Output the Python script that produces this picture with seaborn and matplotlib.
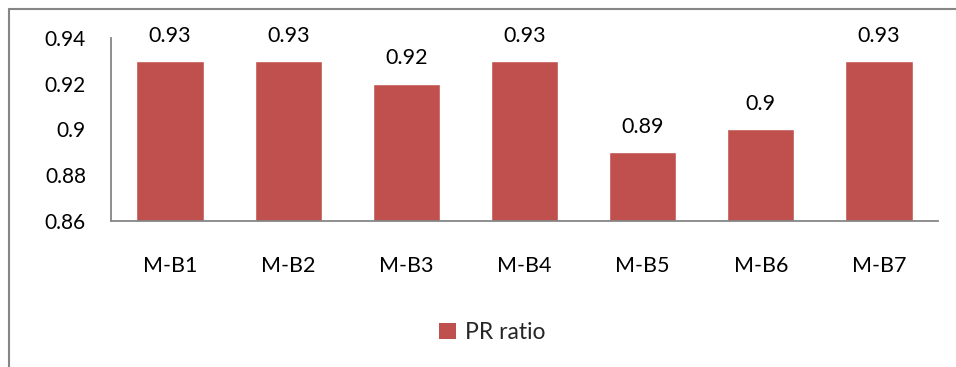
import matplotlib
matplotlib.use("Agg")
import matplotlib.pyplot as plt
from matplotlib.lines import Line2D
from matplotlib.patches import Patch
import pandas as pd
import seaborn as sns

categories = ["M-B1", "M-B2", "M-B3", "M-B4", "M-B5", "M-B6", "M-B7"]
pr_ratio = [0.93, 0.93, 0.92, 0.93, 0.89, 0.90, 0.93]
series_name = "PR ratio"
y_ticks = [0.86, 0.88, 0.90, 0.92, 0.94]
y_tick_labels = ["0.86", "0.88", "0.9", "0.92", "0.94"]

bar_color = "#C0504D"
axis_gray = "#868686"

sns.set_theme(style="white")
plt.rcParams["font.family"] = ["Lato", "DejaVu Sans"]

df = pd.DataFrame({"model": categories, "value": pr_ratio})

fig = plt.figure(figsize=(9.56, 3.67), dpi=100)
ax = fig.add_axes([0.1161, 0.3978, 0.9812 - 0.1161, 0.8965 - 0.3978])

sns.barplot(data=df, x="model", y="value", color=bar_color, saturation=1,
            width=0.57, ax=ax)

ax.set_ylim(0.86, 0.94)
ax.set_yticks(y_ticks)
ax.set_yticklabels(y_tick_labels)
ax.set_xlim(-0.5, len(categories) - 0.5)
ax.set_xlabel("")
ax.set_ylabel("")

for side in ("top", "right"):
    ax.spines[side].set_visible(False)
for side in ("left", "bottom"):
    ax.spines[side].set_color(axis_gray)
    ax.spines[side].set_linewidth(1.3)

ax.tick_params(axis="y", length=0, pad=18, labelsize=15, labelcolor="black")
ax.tick_params(axis="x", length=0, pad=25, labelsize=15.5, labelcolor="black")

for container in ax.containers:
    ax.bar_label(container, labels=[f"{v:g}" for v in pr_ratio],
                 padding=11, fontsize=15.5, color="black")

handle = Patch(facecolor=bar_color, edgecolor="none")
fig.legend([handle], [series_name], loc="center", bbox_to_anchor=(0.515, 0.095),
           frameon=False, fontsize=16.5, handlelength=0.7, handleheight=0.7,
           handletextpad=0.4)

# outer chart frame
fig.add_artist(Line2D([9 / 956, 9 / 956], [0, 1 - 9 / 367],
                      transform=fig.transFigure, color=axis_gray, lw=1.5))
fig.add_artist(Line2D([9 / 956, 1], [1 - 9 / 367, 1 - 9 / 367],
                      transform=fig.transFigure, color=axis_gray, lw=1.5))

fig.savefig("out.png", dpi=100)
